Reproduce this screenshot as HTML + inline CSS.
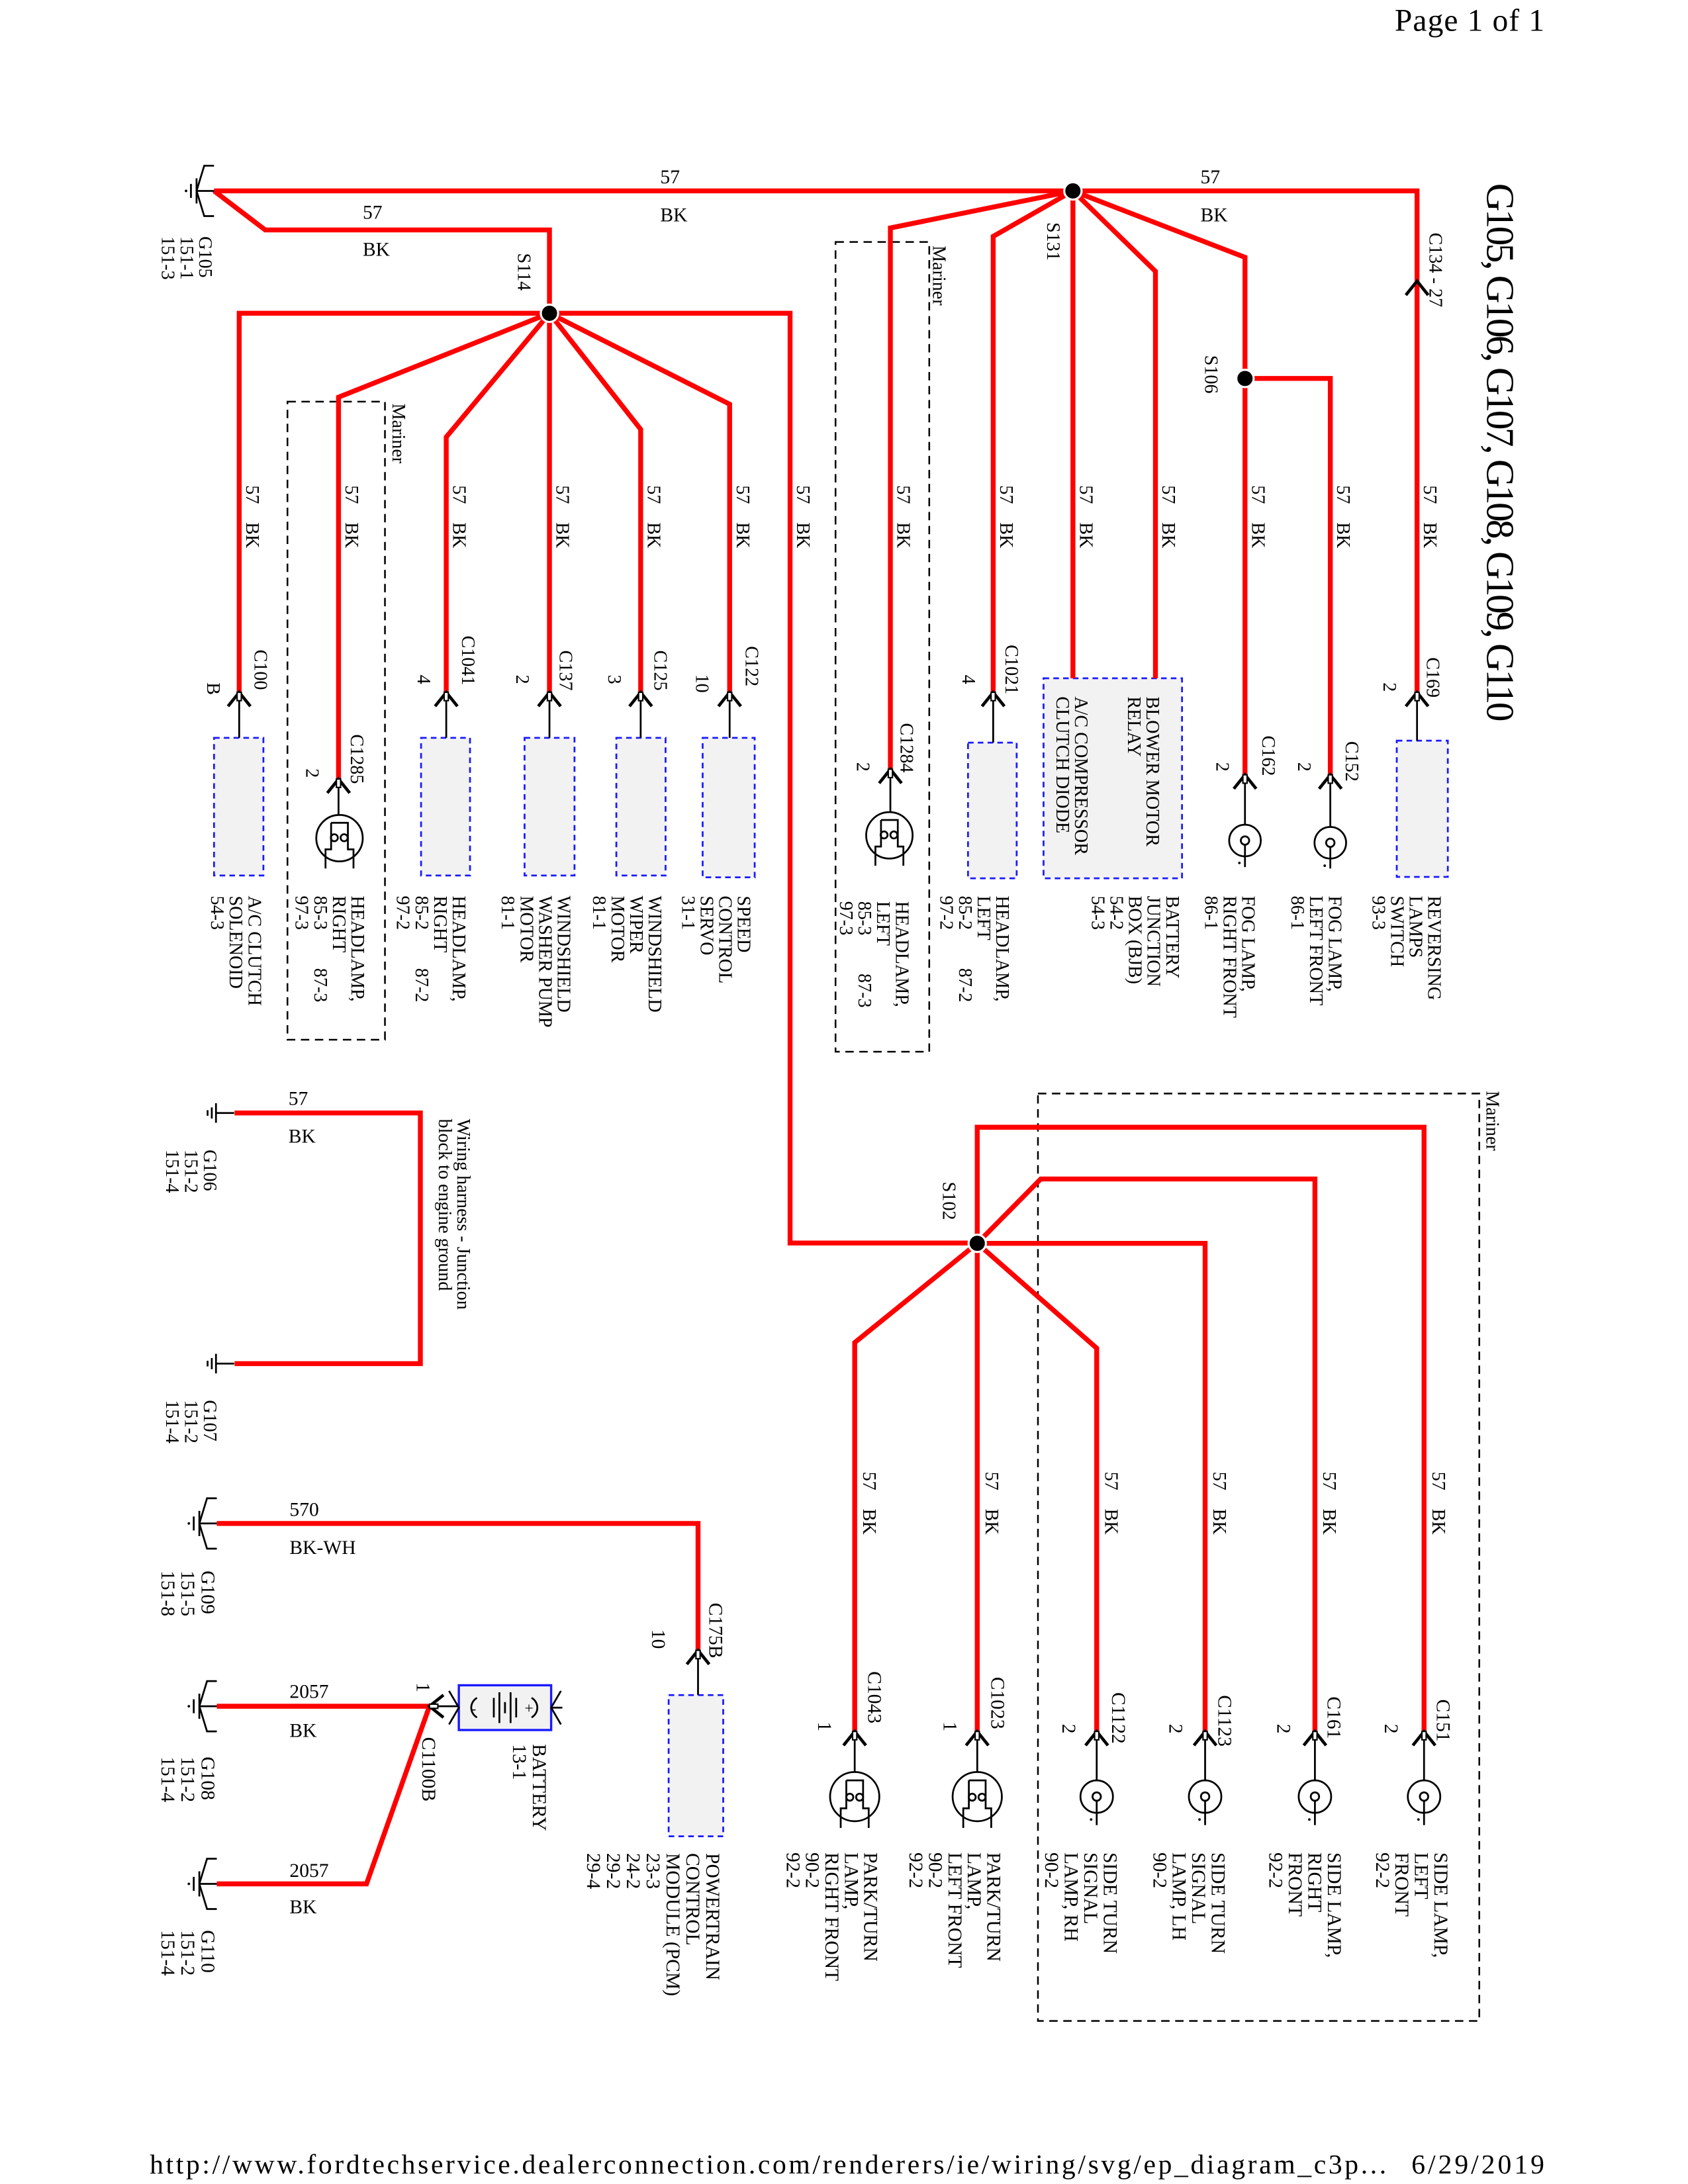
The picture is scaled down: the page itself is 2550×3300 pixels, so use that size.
<!DOCTYPE html>
<html><head><meta charset="utf-8"><style>
html,body{margin:0;padding:0;background:#fff}
svg{display:block}
text{font-family:"Liberation Serif",serif;fill:#000}
.w{stroke:#f00;stroke-width:3.5;fill:none;stroke-linejoin:miter}
.k{stroke:#000;stroke-width:1.3;fill:none}
.bx{fill:#f2f2f2;stroke:#1a1aff;stroke-width:1.3;stroke-dasharray:4,3}
.mr{fill:none;stroke:#000;stroke-width:1.2;stroke-dasharray:6,4}
.s{font-size:13.3px}
.b{font-size:14px}
</style></head><body>
<svg width="2550" height="3300" viewBox="0 0 1206.7 1561.6" preserveAspectRatio="none" xmlns="http://www.w3.org/2000/svg">
<defs>
<g id="ar"><path d="M-8,10 L0,0 L8,10" stroke="#000" stroke-width="2.2" fill="none"/><rect x="-1.5" y="0" width="3" height="6" fill="#fff" stroke="#000" stroke-width="1"/></g>
<g id="cg"><line x1="-12.5" y1="-9" x2="-12.5" y2="9" class="k" stroke-width="1.6"/><line x1="-16.5" y1="-5" x2="-16.5" y2="5" class="k"/><circle cx="-20" cy="0" r="0.9"/><line x1="-12.5" y1="0" x2="0" y2="0" class="k"/><path d="M-12.5,0 L-7,-18 H0 M-12.5,0 L-7,18 H0" class="k"/></g>
<g id="sg"><line x1="0" y1="-7" x2="0" y2="7" class="k"/><line x1="-3" y1="-4" x2="-3" y2="4" class="k"/><line x1="-6" y1="-2" x2="-6" y2="2" class="k"/><line x1="0" y1="0" x2="13" y2="0" class="k"/></g>
</defs>

<!-- header/footer -->
<text x="997" y="22" font-size="22.5" textLength="107">Page 1 of 1</text>
<text x="107" y="1554" font-size="19.7" textLength="884">http://www.fordtechservice.dealerconnection.com/renderers/ie/wiring/svg/ep_diagram_c3p...</text>
<text x="1009" y="1554" font-size="19.7" textLength="95">6/29/2019</text>

<!-- title -->
<text transform="translate(1063,131) rotate(90)" font-size="28" textLength="385">G105, G106, G107, G108, G109, G110</text>

<!-- mariner boxes -->
<rect class="mr" x="205.5" y="287.2" width="69.7" height="456.2"/>
<rect class="mr" x="597.3" y="173" width="67" height="579"/>
<rect class="mr" x="742" y="781.9" width="315.5" height="663.1"/>
<text class="s" transform="translate(280.5,288.5) rotate(90)">Mariner</text>
<text class="s" transform="translate(667,175.6) rotate(90)">Mariner</text>
<text class="s" transform="translate(1062.7,780) rotate(90)">Mariner</text>

<!-- boxes -->
<rect class="bx" x="153" y="527.6" width="35.3" height="98.4"/>
<rect class="bx" x="301" y="527.6" width="35" height="98.4"/>
<rect class="bx" x="375" y="527.6" width="35.7" height="98.4"/>
<rect class="bx" x="440.6" y="527.6" width="35.2" height="98.4"/>
<rect class="bx" x="502.3" y="527.6" width="37.2" height="99.7"/>
<rect class="bx" x="692" y="531" width="34.8" height="97"/>
<rect class="bx" x="746" y="485" width="99" height="143"/>
<rect class="bx" x="998.5" y="529.6" width="36.5" height="97.4"/>
<rect class="bx" x="478" y="1212" width="39" height="101"/>

<!-- red wires -->
<path class="w" d="M153,136.5 H1013 V495"/>
<path class="w" d="M153,136.5 L189.6,164.4 H392.8 V224"/>
<path class="w" d="M171,495 V224 H564.8 V888.8 H698.6"/>
<path class="w" d="M242,557 V284 L392.8,224"/>
<path class="w" d="M319,495 V312.5 L392.8,224"/>
<path class="w" d="M392.8,224 V495"/>
<path class="w" d="M458,495 V307 L392.8,224"/>
<path class="w" d="M521.6,495 V289 L392.8,224"/>
<path class="w" d="M636.5,550 V163 L767,136.5"/>
<path class="w" d="M710,495 V169 L767,136.5"/>
<path class="w" d="M767,136.5 V485"/>
<path class="w" d="M826,485 V194 L767,136.5"/>
<path class="w" d="M890,554 V184 L767,136.5"/>
<path class="w" d="M890,270.6 H951 V554"/>
<path class="w" d="M698.6,889 V806 H1018 V1238"/>
<path class="w" d="M698.6,889 L744,843 H940 V1238"/>
<path class="w" d="M698.6,889 H861.5 V1238"/>
<path class="w" d="M698.6,889 L784,964 V1238"/>
<path class="w" d="M698.6,889 V1238"/>
<path class="w" d="M698.6,889 L611,960 V1238"/>
<path class="w" d="M167.7,795.8 H300.5 V975 H167.7"/>
<path class="w" d="M155,1089.3 H499 V1180"/>
<path class="w" d="M155,1220 H307"/>
<path class="w" d="M155,1347 H262 L307,1220"/>

<!-- splices -->
<circle cx="392.8" cy="224" r="6.2" stroke="#fff" stroke-width="1.5"/>
<circle cx="767" cy="136.5" r="6.2" stroke="#fff" stroke-width="1.5"/>
<circle cx="890" cy="270.6" r="6.2" stroke="#fff" stroke-width="1.5"/>
<circle cx="698.6" cy="889" r="6.2" stroke="#fff" stroke-width="1.5"/>

<!-- grounds -->
<use href="#cg" x="153" y="136.5"/>
<use href="#sg" x="154.4" y="795.8"/>
<use href="#sg" x="154.4" y="975"/>
<use href="#cg" x="155" y="1089.3"/>
<use href="#cg" x="155" y="1220"/>
<use href="#cg" x="155" y="1347"/>

<!-- stems -->
<path class="k" d="M171,495V527.6 M242,557V582.7 M319,495V527.6 M392.8,495V527.6 M458,495V527.6 M521.6,495V527.6 M636.5,550V580.7 M710,495V531 M890,554V589.7 M951,554V591.3 M1013,495V529.6 M499,1180V1212 M611,1238V1267 M698.6,1238V1267 M784,1238V1273 M861.5,1238V1273 M940,1238V1273 M1018,1238V1273 M307,1220H328"/>
<!-- arrows -->
<use href="#ar" x="171" y="495"/><use href="#ar" x="242" y="557"/><use href="#ar" x="319" y="495"/>
<use href="#ar" x="392.8" y="495"/><use href="#ar" x="458" y="495"/><use href="#ar" x="521.6" y="495"/>
<use href="#ar" x="636.5" y="550"/><use href="#ar" x="710" y="495"/><use href="#ar" x="890" y="554"/>
<use href="#ar" x="951" y="554"/><use href="#ar" x="1013" y="495"/><use href="#ar" x="499" y="1180"/>
<use href="#ar" x="611" y="1238"/><use href="#ar" x="698.6" y="1238"/><use href="#ar" x="784" y="1238"/>
<use href="#ar" x="861.5" y="1238"/><use href="#ar" x="940" y="1238"/><use href="#ar" x="1018" y="1238"/>
<path d="M1005,211 L1013,201 L1021,211" stroke="#000" stroke-width="2.2" fill="none"/>
<g transform="translate(307,1220) rotate(-90)"><use href="#ar"/></g>

<!-- battery -->
<rect x="328" y="1205" width="66" height="32" fill="#f2f2f2" stroke="#1a1aff" stroke-width="1.6"/>
<path class="k" d="M321,1209 L328,1221 L321,1233 M401,1209 L394,1221 L401,1233 M394,1221H402"/>
<path class="k" d="M341,1214 A8,8 0 0 0 341,1228 M380,1214 A8,8 0 0 1 380,1228"/>
<text x="337" y="1225" font-size="10">-</text><text x="375" y="1225" font-size="11">+</text>
<path class="k" d="M353,1214V1228 M357,1210V1232 M361,1217V1225 M365,1210V1232 M369,1214V1228" stroke-width="1.6"/>

<!-- lamps -->
<g class="k">
<circle cx="242.7" cy="599.3" r="16.6"/><path d="M236.7,588.3H248.7V596.3 M236.7,588.3V607.3H232.7V621 M248.7,596.3V607.3H252.7V621"/><circle cx="239" cy="599" r="2.5"/><circle cx="246" cy="599" r="2.5"/>
<circle cx="635.8" cy="597.3" r="16.6"/><path d="M629.8,586.3H641.8V594.3 M629.8,586.3V605.3H625.8V619 M641.8,594.3V605.3H645.8V619"/><circle cx="632" cy="597" r="2.5"/><circle cx="639" cy="597" r="2.5"/>
<circle cx="611" cy="1284.6" r="17.6"/><path d="M605,1273H617V1281 M605,1273V1293H601V1307 M617,1281V1293H621V1307"/><circle cx="607.5" cy="1285" r="2.5"/><circle cx="614.5" cy="1285" r="2.5"/>
<circle cx="698.6" cy="1284.6" r="17.6"/><path d="M692.6,1273H704.6V1281 M692.6,1273V1293H688.6V1307 M704.6,1281V1293H708.6V1307"/><circle cx="695" cy="1285" r="2.5"/><circle cx="702" cy="1285" r="2.5"/>
<circle cx="890" cy="601" r="11.3"/><circle cx="890" cy="601" r="3"/><path d="M890,604V620"/>
<circle cx="951" cy="602.6" r="11.3"/><circle cx="951" cy="602.6" r="3"/><path d="M951,605.6V621"/>
<circle cx="784" cy="1284.6" r="11.6"/><circle cx="784" cy="1284.6" r="3"/><path d="M784,1287.6V1305"/>
<circle cx="861.5" cy="1284.6" r="11.6"/><circle cx="861.5" cy="1284.6" r="3"/><path d="M861.5,1287.6V1305"/>
<circle cx="940" cy="1284.6" r="11.6"/><circle cx="940" cy="1284.6" r="3"/><path d="M940,1287.6V1305"/>
<circle cx="1018" cy="1284.6" r="11.6"/><circle cx="1018" cy="1284.6" r="3"/><path d="M1018,1287.6V1305"/>
</g>
<circle cx="886" cy="617" r="0.9"/><circle cx="947" cy="619" r="0.9"/><circle cx="780" cy="1301" r="0.9"/><circle cx="857.5" cy="1301" r="0.9"/><circle cx="936" cy="1301" r="0.9"/><circle cx="1014" cy="1301" r="0.9"/>

<!-- horizontal wire labels -->
<g font-size="14">
<text x="472" y="131">57</text><text x="472" y="158.4">BK</text>
<text x="858.2" y="131">57</text><text x="858.2" y="158.4">BK</text>
<text x="259.3" y="156.4">57</text><text x="259.3" y="183">BK</text>
<text x="206.2" y="790">57</text><text x="206.2" y="817">BK</text>
<text x="207" y="1084">570</text><text x="207" y="1111">BK-WH</text>
<text x="207" y="1214">2057</text><text x="207" y="1242">BK</text>
<text x="207" y="1342">2057</text><text x="207" y="1368">BK</text>
</g>

<!-- vertical wire labels top -->
<g class="s">
<text transform="translate(176,347) rotate(90)">57<tspan x="26.5">BK</tspan></text>
<text transform="translate(247,347) rotate(90)">57<tspan x="26.5">BK</tspan></text>
<text transform="translate(324,347) rotate(90)">57<tspan x="26.5">BK</tspan></text>
<text transform="translate(397.8,347) rotate(90)">57<tspan x="26.5">BK</tspan></text>
<text transform="translate(463,347) rotate(90)">57<tspan x="26.5">BK</tspan></text>
<text transform="translate(526.6,347) rotate(90)">57<tspan x="26.5">BK</tspan></text>
<text transform="translate(569.8,347) rotate(90)">57<tspan x="26.5">BK</tspan></text>
<text transform="translate(641.5,347) rotate(90)">57<tspan x="26.5">BK</tspan></text>
<text transform="translate(715,347) rotate(90)">57<tspan x="26.5">BK</tspan></text>
<text transform="translate(772,347) rotate(90)">57<tspan x="26.5">BK</tspan></text>
<text transform="translate(831,347) rotate(90)">57<tspan x="26.5">BK</tspan></text>
<text transform="translate(895,347) rotate(90)">57<tspan x="26.5">BK</tspan></text>
<text transform="translate(956,347) rotate(90)">57<tspan x="26.5">BK</tspan></text>
<text transform="translate(1018,347) rotate(90)">57<tspan x="26.5">BK</tspan></text>
<!-- bottom -->
<text transform="translate(617,1052.3) rotate(90)">57<tspan x="26.5">BK</tspan></text>
<text transform="translate(704.6,1052.3) rotate(90)">57<tspan x="26.5">BK</tspan></text>
<text transform="translate(790,1052.3) rotate(90)">57<tspan x="26.5">BK</tspan></text>
<text transform="translate(867.5,1052.3) rotate(90)">57<tspan x="26.5">BK</tspan></text>
<text transform="translate(946,1052.3) rotate(90)">57<tspan x="26.5">BK</tspan></text>
<text transform="translate(1024,1052.3) rotate(90)">57<tspan x="26.5">BK</tspan></text>

<!-- splice / connector labels -->
<text transform="translate(370.2,181) rotate(90)">S114</text>
<text transform="translate(748.7,159) rotate(90)">S131</text>
<text transform="translate(861.6,254) rotate(90)">S106</text>
<text transform="translate(674,845) rotate(90)">S102</text>
<text transform="translate(1022,166.4) rotate(90)">C134 - 27</text>
<text transform="translate(182,464.5) rotate(90)">C100</text>
<text transform="translate(148,488) rotate(90)">B</text>
<text transform="translate(330.3,454.5) rotate(90)">C1041</text>
<text transform="translate(298.5,482.5) rotate(90)">4</text>
<text transform="translate(400,465) rotate(90)">C137</text>
<text transform="translate(369,482.5) rotate(90)">2</text>
<text transform="translate(467.8,465) rotate(90)">C125</text>
<text transform="translate(435,482.5) rotate(90)">3</text>
<text transform="translate(533,462) rotate(90)">C122</text>
<text transform="translate(497.7,482) rotate(90)">10</text>
<text transform="translate(250.7,525) rotate(90)">C1285</text>
<text transform="translate(218.8,549.5) rotate(90)">2</text>
<text transform="translate(643.8,517) rotate(90)">C1284</text>
<text transform="translate(612.5,545) rotate(90)">2</text>
<text transform="translate(718.8,461) rotate(90)">C1021</text>
<text transform="translate(688,482.5) rotate(90)">4</text>
<text transform="translate(902.4,526) rotate(90)">C162</text>
<text transform="translate(869.5,545) rotate(90)">2</text>
<text transform="translate(962,530) rotate(90)">C152</text>
<text transform="translate(928,545) rotate(90)">2</text>
<text transform="translate(1020,470) rotate(90)">C169</text>
<text transform="translate(989,488) rotate(90)">2</text>

<!-- ground labels -->
<text transform="translate(142.4,169) rotate(90)">G105<tspan x="0" dy="13.3">151-1</tspan><tspan x="0" dy="13.3">151-3</tspan></text>
<text transform="translate(145.8,822) rotate(90)">G106<tspan x="0" dy="13.5">151-2</tspan><tspan x="0" dy="13.5">151-4</tspan></text>
<text transform="translate(145.8,1001) rotate(90)">G107<tspan x="0" dy="13.5">151-2</tspan><tspan x="0" dy="13.5">151-4</tspan></text>
<text class="b" transform="translate(144,1123) rotate(90)">G109<tspan x="0" dy="14.3">151-5</tspan><tspan x="0" dy="14.3">151-8</tspan></text>
<text class="b" transform="translate(144,1256) rotate(90)">G108<tspan x="0" dy="14.3">151-2</tspan><tspan x="0" dy="14.3">151-4</tspan></text>
<text class="b" transform="translate(144,1380) rotate(90)">G110<tspan x="0" dy="14.3">151-2</tspan><tspan x="0" dy="14.3">151-4</tspan></text>

<!-- top descriptions -->
<text transform="translate(177.6,640.5) rotate(90)">A/C CLUTCH<tspan x="0" dy="13.3">SOLENOID</tspan><tspan x="0" dy="13.3">54-3</tspan></text>
<text transform="translate(251.3,640.5) rotate(90)">HEADLAMP,<tspan x="0" dy="13.3">RIGHT</tspan><tspan x="0" dy="13.3">85-3</tspan><tspan x="51.7">87-3</tspan><tspan x="0" dy="13.3">97-3</tspan></text>
<text transform="translate(323.7,640.5) rotate(90)">HEADLAMP,<tspan x="0" dy="13.3">RIGHT</tspan><tspan x="0" dy="13.3">85-2</tspan><tspan x="51.7">87-2</tspan><tspan x="0" dy="13.3">97-2</tspan></text>
<text transform="translate(398.7,640.5) rotate(90)">WINDSHIELD<tspan x="0" dy="13.3">WASHER PUMP</tspan><tspan x="0" dy="13.3">MOTOR</tspan><tspan x="0" dy="13.3">81-1</tspan></text>
<text transform="translate(463.8,640.5) rotate(90)">WINDSHIELD<tspan x="0" dy="13.3">WIPER</tspan><tspan x="0" dy="13.3">MOTOR</tspan><tspan x="0" dy="13.3">81-1</tspan></text>
<text transform="translate(527.5,640.5) rotate(90)">SPEED<tspan x="0" dy="13.3">CONTROL</tspan><tspan x="0" dy="13.3">SERVO</tspan><tspan x="0" dy="13.3">31-1</tspan></text>
<text transform="translate(640.4,644.4) rotate(90)">HEADLAMP,<tspan x="0" dy="13.3">LEFT</tspan><tspan x="0" dy="13.3">85-3</tspan><tspan x="51.7">87-3</tspan><tspan x="0" dy="13.3">97-3</tspan></text>
<text transform="translate(712.2,640.5) rotate(90)">HEADLAMP,<tspan x="0" dy="13.3">LEFT</tspan><tspan x="0" dy="13.3">85-2</tspan><tspan x="51.7">87-2</tspan><tspan x="0" dy="13.3">97-2</tspan></text>
<text transform="translate(833.7,640.5) rotate(90)">BATTERY<tspan x="0" dy="13.3">JUNCTION</tspan><tspan x="0" dy="13.3">BOX (BJB)</tspan><tspan x="0" dy="13.3">54-2</tspan><tspan x="0" dy="13.3">54-3</tspan></text>
<text transform="translate(819.7,498) rotate(90)">BLOWER MOTOR<tspan x="0" dy="13.3">RELAY</tspan></text>
<text transform="translate(768.6,498) rotate(90)">A/C COMPRESSOR<tspan x="0" dy="13.3">CLUTCH DIODE</tspan></text>
<text transform="translate(888,640.5) rotate(90)">FOG LAMP,<tspan x="0" dy="13.3">RIGHT FRONT</tspan><tspan x="0" dy="13.3">86-1</tspan></text>
<text transform="translate(949.9,640.5) rotate(90)">FOG LAMP,<tspan x="0" dy="13.3">LEFT FRONT</tspan><tspan x="0" dy="13.3">86-1</tspan></text>
<text transform="translate(1021,640.5) rotate(90)">REVERSING<tspan x="0" dy="13.3">LAMPS</tspan><tspan x="0" dy="13.3">SWITCH</tspan><tspan x="0" dy="13.3">93-3</tspan></text>

<text transform="translate(327,800) rotate(90)">Wiring harness - Junction<tspan x="0" dy="13.3">block to engine ground</tspan></text>
</g>

<!-- bottom connector & desc labels -->
<g class="b">
<text transform="translate(620.7,1195) rotate(90)">C1043</text>
<text transform="translate(585,1231) rotate(90)">1</text>
<text transform="translate(708.7,1199) rotate(90)">C1023</text>
<text transform="translate(674.5,1231) rotate(90)">1</text>
<text transform="translate(795,1210) rotate(90)">C1122</text>
<text transform="translate(759.6,1232.6) rotate(90)">2</text>
<text transform="translate(871,1212) rotate(90)">C1123</text>
<text transform="translate(836,1232.6) rotate(90)">2</text>
<text transform="translate(949,1213) rotate(90)">C161</text>
<text transform="translate(913,1232.6) rotate(90)">2</text>
<text transform="translate(1027,1215) rotate(90)">C151</text>
<text transform="translate(990,1232.6) rotate(90)">2</text>
<text transform="translate(507,1146) rotate(90)">C175B</text>
<text transform="translate(466,1165) rotate(90)">10</text>
<text transform="translate(302,1242) rotate(90)">C1100B</text>
<text transform="translate(298,1203) rotate(90)">1</text>
<text transform="translate(381,1247) rotate(90)">BATTERY<tspan x="0" dy="14.2">13-1</tspan></text>

<text transform="translate(505,1325) rotate(90)">POWERTRAIN<tspan x="0" dy="14.2">CONTROL</tspan><tspan x="0" dy="14.2">MODULE (PCM)</tspan><tspan x="0" dy="14.2">23-3</tspan><tspan x="0" dy="14.2">24-2</tspan><tspan x="0" dy="14.2">29-2</tspan><tspan x="0" dy="14.2">29-4</tspan></text>
<text transform="translate(617.9,1324.5) rotate(90)">PARK/TURN<tspan x="0" dy="13.9">LAMP,</tspan><tspan x="0" dy="13.9">RIGHT FRONT</tspan><tspan x="0" dy="13.9">90-2</tspan><tspan x="0" dy="13.9">92-2</tspan></text>
<text transform="translate(705.8,1324.5) rotate(90)">PARK/TURN<tspan x="0" dy="13.9">LAMP,</tspan><tspan x="0" dy="13.9">LEFT FRONT</tspan><tspan x="0" dy="13.9">90-2</tspan><tspan x="0" dy="13.9">92-2</tspan></text>
<text transform="translate(789,1324.5) rotate(90)">SIDE TURN<tspan x="0" dy="13.9">SIGNAL</tspan><tspan x="0" dy="13.9">LAMP, RH</tspan><tspan x="0" dy="13.9">90-2</tspan></text>
<text transform="translate(866.2,1324.5) rotate(90)">SIDE TURN<tspan x="0" dy="13.9">SIGNAL</tspan><tspan x="0" dy="13.9">LAMP, LH</tspan><tspan x="0" dy="13.9">90-2</tspan></text>
<text transform="translate(949.2,1324.5) rotate(90)">SIDE LAMP,<tspan x="0" dy="13.9">RIGHT</tspan><tspan x="0" dy="13.9">FRONT</tspan><tspan x="0" dy="13.9">92-2</tspan></text>
<text transform="translate(1025.4,1324.5) rotate(90)">SIDE LAMP,<tspan x="0" dy="13.9">LEFT</tspan><tspan x="0" dy="13.9">FRONT</tspan><tspan x="0" dy="13.9">92-2</tspan></text>
</g>
</svg>
</body></html>
